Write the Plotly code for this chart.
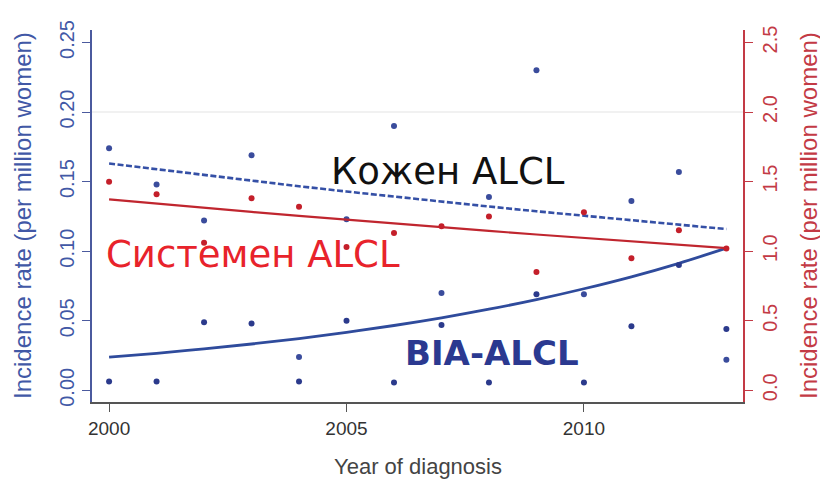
import plotly.graph_objects as go

years = list(range(2000, 2014))

# BIA-ALCL observed rates (left axis, per million women)
bia_rates = [0.0063, 0.0063, 0.049, 0.048, 0.0063, 0.050, 0.0056,
             0.047, 0.0056, 0.069, 0.0056, 0.046, 0.090, 0.044]
# second set of blue observations (left axis)
blue2_rates = [0.174, 0.148, 0.122, 0.169, 0.024, 0.123, 0.190,
               0.070, 0.139, 0.230, 0.069, 0.136, 0.157, 0.022]
# Systemic ALCL observed rates (right axis)
sys_rates = [1.50, 1.41, 1.06, 1.38, 1.32, 1.03, 1.13,
             1.18, 1.25, 0.85, 1.28, 0.95, 1.15, 1.02]

# fitted trend lines
cut_fit = [0.163, 0.1588, 0.1547, 0.1507, 0.1467, 0.1429, 0.1392,
           0.1356, 0.1321, 0.1287, 0.1254, 0.1221, 0.1190, 0.1159]
sys_fit = [1.372, 1.341, 1.311, 1.282, 1.254, 1.226, 1.198,
           1.172, 1.146, 1.120, 1.095, 1.071, 1.047, 1.022]
bia_fit = [0.0238, 0.0266, 0.0298, 0.0333, 0.0372, 0.0417, 0.0466,
           0.0521, 0.0583, 0.0652, 0.0730, 0.0816, 0.0913, 0.1022]

left_ticks = [0.00, 0.05, 0.10, 0.15, 0.20, 0.25]
left_tick_text = ["0.00", "0.05", "0.10", "0.15", "0.20", "0.25"]
right_ticks = [0.0, 0.5, 1.0, 1.5, 2.0, 2.5]
right_tick_text = ["0.0", "0.5", "1.0", "1.5", "2.0", "2.5"]
x_ticks = [2000, 2005, 2010]

BLUE_AX = "#4b5a9e"
BLUE_TXT = "#4158a6"
RED_AX = "#c33a45"
NAVY = "#2b3a8c"
RED_LINE = "#c0262f"
RED_DOT = "#c41f2a"

fig = go.Figure()

fig.add_trace(go.Scatter(x=years, y=cut_fit, mode="lines",
                         line=dict(color="#3550a6", width=2.6, dash="6px,2.5px"),
                         showlegend=False, hoverinfo="skip"))
fig.add_trace(go.Scatter(x=years, y=bia_fit, mode="lines",
                         line=dict(color="#2f4b9c", width=2.8, shape="spline"),
                         showlegend=False, hoverinfo="skip"))
fig.add_trace(go.Scatter(x=years, y=sys_fit, mode="lines", yaxis="y2",
                         line=dict(color=RED_LINE, width=2.2),
                         showlegend=False, hoverinfo="skip"))

fig.add_trace(go.Scatter(x=years, y=blue2_rates, mode="markers",
                         marker=dict(color="#3a4c9c", size=6),
                         showlegend=False))
fig.add_trace(go.Scatter(x=years, y=bia_rates, mode="markers",
                         marker=dict(color=NAVY, size=6),
                         showlegend=False))
fig.add_trace(go.Scatter(x=years, y=sys_rates, mode="markers", yaxis="y2",
                         marker=dict(color=RED_DOT, size=6),
                         showlegend=False))

fig.update_layout(
    width=820, height=473,
    margin=dict(l=84, r=85, t=12, b=79),
    paper_bgcolor="white", plot_bgcolor="white",
    font=dict(family="Liberation Sans, Arial, sans-serif"),
    xaxis=dict(range=[1999.64, 2013.35], tickvals=x_ticks,
               ticktext=[str(v) for v in x_ticks],
               showline=True, linecolor="#555555", linewidth=1.5,
               ticks="outside", ticklen=8, tickcolor="#555555",
               tickfont=dict(size=19, color="#333333"),
               showgrid=False, zeroline=False),
    yaxis=dict(range=[-0.0084, 0.259], tickvals=left_ticks,
               ticktext=left_tick_text, tickangle=-90,
               showline=True, linecolor=BLUE_AX, linewidth=2,
               ticks="outside", ticklen=8, tickcolor=BLUE_AX,
               tickfont=dict(size=20, color=BLUE_TXT),
               showgrid=False, zeroline=False),
    yaxis2=dict(range=[-0.084, 2.59], tickvals=right_ticks,
                ticktext=right_tick_text, tickangle=-90,
                overlaying="y", side="right",
                showline=True, linecolor=RED_AX, linewidth=2,
                ticks="outside", ticklen=8, tickcolor=RED_AX,
                tickfont=dict(size=20, color=RED_AX),
                showgrid=False, zeroline=False),
    shapes=[dict(type="line", xref="paper", yref="y", x0=0, x1=1,
                 y0=0.20, y1=0.20, line=dict(color="#ececec", width=1.5),
                 layer="below")],
    annotations=[
        dict(text="Incidence rate (per million women)", xref="paper", yref="paper",
             x=0, y=0.5, xanchor="center", yanchor="middle", xshift=-70,
             textangle=-90, showarrow=False,
             font=dict(size=24, color=BLUE_TXT)),
        dict(text="Incidence rate (per million women)", xref="paper", yref="paper",
             x=1, y=0.5, xanchor="center", yanchor="middle", xshift=65,
             textangle=-90, showarrow=False,
             font=dict(size=24, color=RED_AX)),
        dict(text="Year of diagnosis", xref="paper", yref="paper",
             x=0.5, y=0, xanchor="center", yanchor="middle", yshift=-64,
             showarrow=False, font=dict(size=22, color="#444444")),
        dict(text="Кожен ALCL", xref="x", yref="y", x=2007.14, y=0.1576,
             showarrow=False, xanchor="center", yanchor="middle",
             font=dict(family="DejaVu Sans, sans-serif", size=37, color="#111111")),
        dict(text="Системен ALCL", xref="x", yref="y", x=2003.03, y=0.0973,
             showarrow=False, xanchor="center", yanchor="middle",
             font=dict(family="DejaVu Sans, sans-serif", size=37, color="#e8232b")),
        dict(text="<b>BIA-ALCL</b>", xref="x", yref="y", x=2008.06, y=0.0266,
             showarrow=False, xanchor="center", yanchor="middle",
             font=dict(family="DejaVu Sans, sans-serif", size=34, color="#2b3990")),
    ],
)

fig.write_html("out.html")
